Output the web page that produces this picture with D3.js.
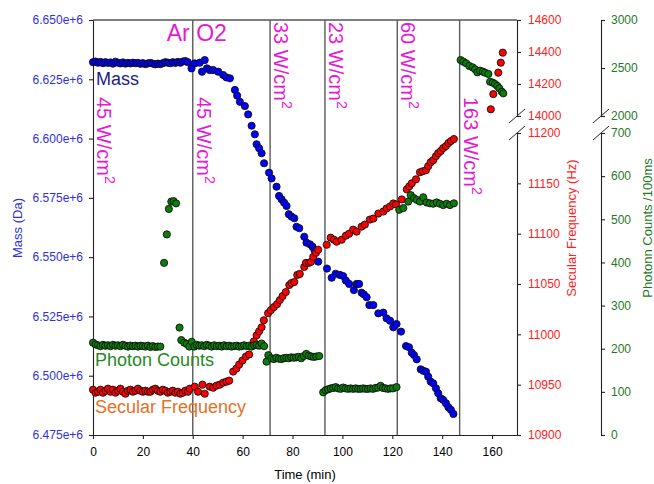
<!DOCTYPE html>
<html>
<head>
<meta charset="utf-8">
<script src="https://cdnjs.cloudflare.com/ajax/libs/d3/7.8.5/d3.min.js"></script>
<style>
  body { margin: 0; background: #fff; }
  svg { display: block; font-family: Arial, "Liberation Sans", sans-serif; }
</style>
</head>
<body>
<div id="chart-area"></div>
<script>
// values: [time (min), value]
var massData = [
  [0,6632200],[1,6632500],[2,6632000],[3,6632300],[4,6631800],[5,6632200],[6,6631900],[7,6632100],
  [8,6631600],[9,6632400],[10,6632000],[11,6631700],[12,6632100],[13,6631600],[14,6631900],[15,6631700],
  [16,6632000],[17,6631800],[18,6631900],[19,6631500],[20,6631800],[21,6631400],[22,6631700],[23,6631900],
  [24,6631600],[25,6631300],[26,6631600],[27,6631400],[28,6631800],[29,6632200],[30,6632000],[31,6631800],
  [32,6632200],[33,6631900],[34,6632300],[35,6632000],[36,6632500],[37,6632700],[38,6632200],
  [39.5,6629600],[40.8,6631700],[42.8,6632000],[43.7,6628200],[44.8,6633100],[45.7,6629600],[46.8,6628900],
  [48.2,6628900],[50.2,6628200],[52.2,6626800],[53.5,6625800],[54.9,6625400],[56.9,6620500],[57.8,6618100],
  [58.9,6615500],[60.9,6613700],[62.2,6610200],[63.6,6605400],[64.9,6601800],[65.6,6597600],[66.6,6595900],
  [67.6,6593800],[68.6,6589600],[70.6,6585600],[71.6,6583200],[73.6,6579700],[74.6,6575800],[75.6,6574400],
  [76.6,6573000],[77.6,6571600],[78.5,6568100],[79.6,6567100],[80.7,6566400],[81.6,6562800],[82.7,6562200],
  [84.7,6558600],[85.6,6556100],[87.0,6555400],[88.0,6554400],[88.8,6553000],[90.3,6548100],[93.8,6545200],
  [95.7,6541300],[97.3,6543000],[99.0,6542500],[100.3,6542000],[101.4,6540100],[102.7,6538700],[104.6,6536100],
  [105.7,6538700],[106.7,6538700],[107.7,6535000],[108.6,6534300],[109.7,6533100],[110.8,6529800],[112.4,6529800],
  [114.4,6526300],[116.4,6526600],[117.7,6524200],[119.1,6523200],[120.4,6520400],[121.7,6521800],[123.5,6518600],
  [125.5,6512500],[126.7,6512000],[127.8,6509700],[128.7,6508700],[129.8,6506900],[131.4,6502700],[132.4,6502100],
  [133.5,6501700],[134.4,6499600],[135.4,6497500],[136.4,6496800],[137.5,6494700],[138.4,6492600],[139.4,6490500],
  [140.4,6489800],[141.5,6488400],[142.5,6486700],[143.5,6485600],[144.5,6483900]
];

var freqData = [
  [0,10945],[1,10942],[2,10943],[3,10945],[4,10942],[5,10944],[6,10946],[7,10943],[8,10945],[9,10942],
  [10,10944],[11,10946],[12,10943],[13,10941],[14,10944],[15,10945],[16,10943],[17,10944],[18,10946],[19,10944],
  [20,10943],[21,10944],[22,10943],[23,10943],[24,10945],[25,10946],[26,10944],[27,10943],[28,10945],[29,10944],
  [30,10942],[31,10943],[32,10944],[33,10942],[34,10943],[35,10941],[36,10942],[37,10944],
  [38.1,10943],[38.8,10946],[40.8,10948],[42.1,10943],[43.9,10950],[44.8,10941],[46.8,10948],[48.2,10947],
  [49.5,10949],[50.8,10950],[52.2,10952],[53.5,10953],[54.6,10954],[56.2,10963],[57.5,10966],[58.6,10970],
  [59.9,10974],[61.3,10978],[62.6,10980],[64.5,10993],[65.6,10999],[66.6,11003],[67.6,11007],[68.5,11014],
  [70.2,11021],[71.3,11024],[72.5,11027],[73.8,11030],[74.9,11034],[76.0,11038],[77.3,11042],[78.7,11049],
  [79.6,11051],[80.7,11052],[81.9,11059],[82.9,11060],[84.7,11067],[85.4,11071],[86.6,11071],[87.4,11072],
  [88.3,11077],[89.4,11081],[90.3,11084],[93.7,11089],[95.3,11096],[96.6,11094],[97.7,11092],[99.7,11094],
  [101.4,11098],[102.7,11100],[104.3,11104],[105.7,11102],[107.7,11107],[109.0,11109],[111.0,11114],[112.4,11115],
  [114.4,11120],[116.4,11122],[117.7,11125],[119.1,11127],[120.4,11130],[121.5,11129],[123.8,11134],[125.8,11144],
  [126.8,11147],[127.8,11150],[129.5,11154],[131.1,11161],[132.2,11162],[133.5,11163],[134.4,11167],[135.4,11171],
  [136.4,11173],[137.5,11177],[138.4,11180],[139.4,11182],[140.4,11185],[141.5,11187],[142.5,11190],[143.5,11192],
  [144.7,11194],
  [159.5,14042],[160.5,14137],[162.5,14271],[163.5,14333],[164.3,14396]
];

var countData = [
  [0,214],[1,210],[2,208],[3,206],[4,209],[5,207],[6,208],[7,206],[8,209],[9,207],[10,208],[11,206],
  [12,209],[13,207],[14,205],[15,207],[16,206],[17,207],[18,205],[19,207],[20,206],[21,205],[22,207],
  [23,204],[24,206],[25,204],[26,205],[27,205],
  [28.5,399],[29.6,465],[30.4,524],[31.4,541],[32.3,542],[33.3,537],
  [34.7,249],[35.4,220],[36.6,214],[37.6,211],[38.6,205],[39.6,216],[40.6,205],[41.6,209],[42.6,207],
  [43.6,208],[44.6,206],[45.6,209],[46.6,207],[47.6,205],[48.6,208],[49.6,206],[50.6,207],[51.6,205],
  [52.6,208],[53.6,206],[54.6,207],[55.6,205],[56.6,206],[57.6,207],[58.6,205],[59.6,206],[60.6,208],
  [61.6,206],[62.6,207],[63.6,205],[64.6,208],[65.6,209],[66.6,207],[67.6,212],[68.6,206],
  [69.6,170],[70.3,185],[71.5,178],[72.5,176],[73.5,179],[74.5,177],[75.5,176],[76.5,178],[77.5,179],
  [78.5,178],[79.5,180],[80.5,179],[81.5,180],[82.5,181],[83.5,178],[84.5,183],[85.5,188],[86.5,184],
  [87.5,182],[88.5,181],[89.5,182],[90.7,183],
  [92.3,99],[93.3,104],[94.3,106],[95.3,108],[96.3,109],[97.3,111],[98.3,108],[99.3,107],[100.3,110],
  [101.3,108],[102.3,107],[103.3,108],[104.3,107],[105.3,108],[106.3,107],[107.3,107],[108.3,108],
  [109.3,107],[110.3,107],[111.3,108],[112.3,107],[113.3,109],[114.3,110],[115.3,114],[116.3,109],
  [117.3,108],[118.3,107],[119.3,108],[120.3,108],[121.7,111],
  [122.8,522],[124.4,526],[126.4,541],[127.4,556],[128.7,549],[129.8,545],[131.1,541],[132.4,551],
  [133.8,539],[135.1,537],[136.4,536],[137.8,539],[139.1,536],[140.4,533],[141.8,536],[143.1,533],[144.7,537],
  [147.4,2583],[148.5,2566],[149.6,2549],[150.9,2521],[152.2,2507],[153.2,2487],[154.1,2455],[155.2,2472],
  [156.3,2462],[157.2,2451],[158.5,2438],[159.2,2357],[160.3,2347],[161.2,2333],[162.1,2313],[162.9,2289],
  [163.9,2253],[164.5,2236]
];

var stepTimes = [40, 71, 93, 122, 147];
var powerStarts = [0, 40, 71, 93, 122, 147];
var powerLabels = ['45', '45', '33', '23', '60', '163'];
var timeTicks = [0, 20, 40, 60, 80, 100, 120, 140, 160];
var massTicks = [6.475e6, 6.500e6, 6.525e6, 6.550e6, 6.575e6, 6.600e6, 6.625e6, 6.650e6];
var freqTicksLow = [10900, 10950, 11000, 11050, 11100, 11150, 11200];
var freqTicksHigh = [14000, 14200, 14400, 14600];
var countTicksLow = [0, 100, 200, 300, 400, 500, 600, 700];
var countTicksHigh = [2000, 2500, 3000];

var def = { width: 654, height: 484, left: 93, right: 517, top: 20, bottom: 435,
            breakHi: 116, breakLo: 133, axis3: 601, r: 3.6 };

var svg = d3.select('#chart-area').append('svg')
  .attr('width', def.width).attr('height', def.height);

// scales
var x = d3.scaleLinear().domain([0, 170]).range([def.left, def.right]);
var yMass = d3.scaleLinear().domain([6.475e6, 6.650e6]).range([def.bottom, def.top]);
var yFreqLo = d3.scaleLinear().domain([10900, 11200]).range([def.bottom, def.breakLo]);
var yFreqHi = d3.scaleLinear().domain([14000, 14600]).range([def.breakHi, def.top]);
var yCntLo = d3.scaleLinear().domain([0, 700]).range([def.bottom, def.breakLo]);
var yCntHi = d3.scaleLinear().domain([2000, 3000]).range([def.breakHi, def.top]);
function yFreq(v) { return v > 12000 ? yFreqHi(v) : yFreqLo(v); }
function yCnt(v) { return v > 1000 ? yCntHi(v) : yCntLo(v); }

function styleAxis(g, color) {
  g.attr('font-family', 'Arial, "Liberation Sans", sans-serif').attr('font-size', 12);
  g.selectAll('path, line').attr('stroke', '#222').attr('stroke-width', 1.1);
  g.selectAll('text').attr('fill', color);
}

// top frame line
svg.append('line')
  .attr('x1', def.left).attr('x2', def.right)
  .attr('y1', def.top).attr('y2', def.top)
  .attr('stroke', '#555').attr('stroke-width', 1.3);

// step divider lines
svg.selectAll('.step').data(stepTimes).enter().append('line')
  .attr('class', 'step')
  .attr('x1', d => x(d)).attr('x2', d => x(d))
  .attr('y1', def.top).attr('y2', def.bottom)
  .attr('stroke', '#5a5a5a').attr('stroke-width', 1.4);

// bottom axis
var xAx = svg.append('g').attr('transform', 'translate(0,' + def.bottom + ')')
  .call(d3.axisBottom(x).tickValues(timeTicks).tickSize(4).tickSizeOuter(0).tickPadding(8));
styleAxis(xAx, '#000');

// left axis
var yAx = svg.append('g').attr('transform', 'translate(' + def.left + ',0)')
  .call(d3.axisLeft(yMass).tickValues(massTicks).tickFormat(d3.format('.3e'))
        .tickSize(4).tickSizeOuter(0).tickPadding(6));
styleAxis(yAx, '#2f2fe0');

// broken right axes
function brokenAxis(xPos, lo, hi, loTicks, hiTicks, color, pad) {
  var g = svg.append('g').attr('transform', 'translate(' + xPos + ',0)');
  [[lo, loTicks], [hi, hiTicks]].forEach(function (p) {
    var a = g.append('g').call(d3.axisRight(p[0]).tickValues(p[1]).tickFormat(d3.format('d'))
      .tickSize(4).tickSizeOuter(0).tickPadding(pad));
    styleAxis(a, color);
  });
  g.selectAll('.brk').data([def.breakHi, def.breakLo]).enter().append('line')
    .attr('class', 'brk')
    .attr('x1', -8).attr('y1', d => d + 7)
    .attr('x2', 8).attr('y2', d => d - 7)
    .attr('stroke', '#222').attr('stroke-width', 1);
}
brokenAxis(def.right, yFreqLo, yFreqHi, freqTicksLow, freqTicksHigh, '#ff2020', 7);
brokenAxis(def.axis3, yCntLo, yCntHi, countTicksLow, countTicksHigh, '#1f7a1f', 6);

// axis titles
svg.append('text').attr('x', 305).attr('y', 479).attr('text-anchor', 'middle')
  .attr('font-size', 13).attr('fill', '#000').text('Time (min)');
svg.append('text').attr('transform', 'translate(22,228) rotate(-90)').attr('text-anchor', 'middle')
  .attr('font-size', 13).attr('fill', '#2f2fe0').text('Mass (Da)');
svg.append('text').attr('transform', 'translate(576,228) rotate(-90)').attr('text-anchor', 'middle')
  .attr('font-size', 13).attr('fill', '#ff2020').text('Secular Frequency (Hz)');
svg.append('text').attr('transform', 'translate(652,228) rotate(-90)').attr('text-anchor', 'middle')
  .attr('font-size', 13).attr('fill', '#1f7a1f').text('Photonn Counts /100ms');

// series
function dots(data, yFn, fill) {
  svg.append('g').selectAll('circle').data(data).enter().append('circle')
    .attr('cx', d => x(d[0]))
    .attr('cy', d => yFn(d[1]))
    .attr('r', def.r)
    .attr('fill', fill)
    .attr('stroke', '#111').attr('stroke-width', 0.9);
}
dots(massData, yMass, '#0000ff');
dots(freqData, yFreq, '#ff0000');
dots(countData, yCnt, '#0a7d0a');

// series labels
svg.append('text').attr('x', 96).attr('y', 85).attr('font-size', 18)
  .attr('fill', '#1c1c8c').text('Mass');
svg.append('text').attr('x', 95).attr('y', 366).attr('font-size', 18)
  .attr('fill', '#238b23').text('Photon Counts');
svg.append('text').attr('x', 95).attr('y', 413).attr('font-size', 18)
  .attr('fill', '#e8701e').text('Secular Frequency');

// gas and power annotations
var magenta = '#e619d4';
svg.append('text').attr('x', x(40) - 26).attr('y', 41).attr('font-size', 23)
  .attr('fill', magenta).text('Ar O2');

var powerY = [97, 97, 22, 22, 22, 97];
powerLabels.forEach(function (lab, i) {
  var t = svg.append('text')
    .attr('transform', 'translate(' + (x(powerStarts[i]) + 4) + ',' + powerY[i] + ') rotate(90)')
    .attr('font-size', 20).attr('fill', magenta);
  t.append('tspan').text(lab + ' W/cm');
  t.append('tspan').attr('font-size', 14).attr('dy', -8).text('2');
});
</script>
</body>
</html>
